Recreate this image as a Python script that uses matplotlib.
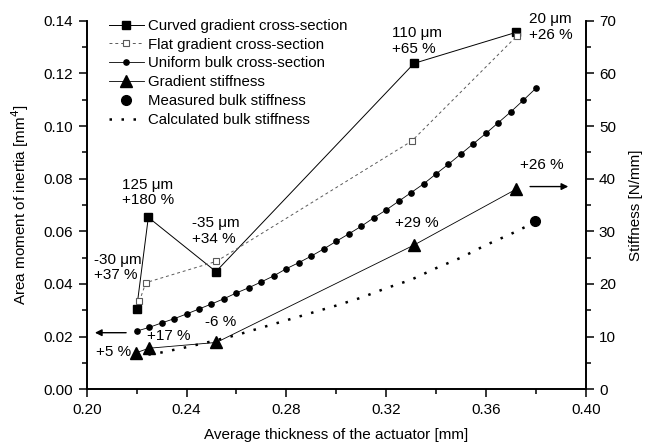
import numpy as np
import matplotlib
matplotlib.use('Agg')
import matplotlib.pyplot as plt
from matplotlib.ticker import MultipleLocator, FormatStrFormatter

plt.rcParams['font.family'] = ['Liberation Sans', 'DejaVu Sans']
plt.rcParams['font.size'] = 11

# area moment of inertia [mm^4] (left axis)
curved_x = [0.2200, 0.2247, 0.2518, 0.3312, 0.3722]
curved_y = [0.0305, 0.0653, 0.0447, 0.1238, 0.1356]
flat_x = [0.2211, 0.2237, 0.2520, 0.3303, 0.3724]
flat_y = [0.0334, 0.0405, 0.0486, 0.0943, 0.1342]
uniform_x = [0.220, 0.225, 0.230, 0.235, 0.240, 0.245, 0.250, 0.255, 0.260,
             0.265, 0.270, 0.275, 0.280, 0.285, 0.290, 0.295, 0.300, 0.305,
             0.310, 0.315, 0.320, 0.325, 0.330, 0.335, 0.340, 0.345, 0.350,
             0.355, 0.360, 0.365, 0.370, 0.375, 0.380]
uniform_y = [0.0221, 0.0235, 0.0252, 0.0268, 0.0286, 0.0305, 0.0324, 0.0344,
             0.0366, 0.0386, 0.0408, 0.0431, 0.0458, 0.0481, 0.0506, 0.0533,
             0.0562, 0.0590, 0.0619, 0.0651, 0.0681, 0.0714, 0.0747, 0.0780,
             0.0818, 0.0855, 0.0894, 0.0933, 0.0972, 0.1013, 0.1054, 0.1098,
             0.1143]

# stiffness [N/mm] (right axis)
grad_x = [0.2199, 0.2249, 0.2520, 0.3312, 0.3721]
grad_y = [6.95, 7.8, 8.9, 27.4, 38.0]
meas_x = [0.3798]
meas_y = [32.0]
calc_x = [0.22, 0.23, 0.24, 0.25, 0.26, 0.27, 0.28, 0.29, 0.30, 0.31, 0.32,
          0.33, 0.34, 0.35, 0.36, 0.37, 0.38]
calc_y = [6.2, 7.0, 8.0, 9.1, 10.3, 11.7, 13.1, 14.5, 15.9, 17.4, 19.2,
          20.8, 23.0, 25.0, 27.4, 29.5, 31.8]

# annotations (text, x, y in left axis units)
notes = [('125 \u03bcm\n+180 %', 0.2141, 0.0747),
         ('-35 \u03bcm\n+34 %', 0.2421, 0.0601),
         ('-30 \u03bcm\n+37 %', 0.2030, 0.0463),
         ('110 \u03bcm\n+65 %', 0.3222, 0.1323),
         ('20 \u03bcm\n+26 %', 0.3773, 0.1376),
         ('+26 %', 0.3738, 0.0852),
         ('+29 %', 0.3236, 0.0630),
         ('-6 %', 0.2474, 0.0257),
         ('+17 %', 0.2240, 0.0202),
         ('+5 %', 0.2037, 0.0143)]

fig = plt.figure(figsize=(6.46, 4.42), dpi=100)
ax = fig.add_axes([0.1342, 0.1192, 0.7725, 0.834])
ax2 = ax.twinx()

l1, = ax.plot(curved_x, curved_y, '-', color='k', lw=0.7, marker='s', ms=6,
              mfc='k', mec='k', label='Curved gradient cross-section')
l2, = ax.plot(flat_x, flat_y, color='0.35', lw=0.7, ls=(0, (3, 3)), marker='s',
              ms=5, mfc='white', mec='0.35', mew=0.8,
              label='Flat gradient cross-section')
l3, = ax.plot(uniform_x, uniform_y, '-', color='k', lw=0.6, marker='o', ms=3.8,
              label='Uniform bulk cross-section')

l4, = ax2.plot(grad_x, grad_y, '-', color='k', lw=0.6, marker='^', ms=8,
               label='Gradient stiffness')
l5, = ax2.plot(meas_x, meas_y, ls='none', color='k', marker='o', ms=7,
               label='Measured bulk stiffness')
l6, = ax2.plot(calc_x, calc_y, color='k', lw=1.8, ls=(0, (1, 3.8)),
               label='Calculated bulk stiffness')

for txt, x, y in notes:
    ax.text(x, y, txt, ha='left', va='center', fontsize=11, linespacing=1.15)

# arrows showing which axis applies
ax.annotate('', xy=(0.2033, 0.0215), xytext=(0.2158, 0.0215),
            arrowprops=dict(arrowstyle='-|>', color='k', lw=1.0,
                            mutation_scale=10, shrinkA=0, shrinkB=0))
ax.annotate('', xy=(0.3930, 0.0770), xytext=(0.3777, 0.0770),
            arrowprops=dict(arrowstyle='-|>', color='k', lw=1.0,
                            mutation_scale=10, shrinkA=0, shrinkB=0))

ax.set_xlim(0.20, 0.40)
ax.set_ylim(0.0, 0.14)
ax2.set_ylim(0, 70)

ax.xaxis.set_major_locator(MultipleLocator(0.04))
ax.xaxis.set_minor_locator(MultipleLocator(0.02))
ax.yaxis.set_major_locator(MultipleLocator(0.02))
ax.yaxis.set_minor_locator(MultipleLocator(0.01))
ax2.yaxis.set_major_locator(MultipleLocator(10))
ax2.yaxis.set_minor_locator(MultipleLocator(5))
ax.xaxis.set_major_formatter(FormatStrFormatter('%.2f'))
ax.yaxis.set_major_formatter(FormatStrFormatter('%.2f'))

for a in (ax, ax2):
    a.spines['top'].set_visible(False)
    for s in a.spines.values():
        s.set_linewidth(1.2)
    a.tick_params(which='major', direction='out', length=5.5, width=1.1, pad=4,
                  labelsize=11)
    a.tick_params(which='minor', direction='out', length=3.5, width=1.1)

ax.set_xlabel('Average thickness of the actuator [mm]', fontsize=11)
ax.set_ylabel('Area moment of inertia [mm$^4$]', fontsize=11)
ax2.set_ylabel('Stiffness [N/mm]', fontsize=11)
ax.xaxis.set_label_coords(0.5, -0.104)
ax.yaxis.set_label_coords(-0.111, 0.5)
ax2.yaxis.set_label_coords(1.087, 0.5)

ax2.legend(handles=[l1, l2, l3, l4, l5, l6], loc='upper left',
           bbox_to_anchor=(0.045, 1.005), frameon=False, numpoints=1,
           fontsize=10.8, borderpad=0, labelspacing=0.32, handlelength=2.3,
           handletextpad=0.3, borderaxespad=0)

fig.savefig('out.png', dpi=100)
